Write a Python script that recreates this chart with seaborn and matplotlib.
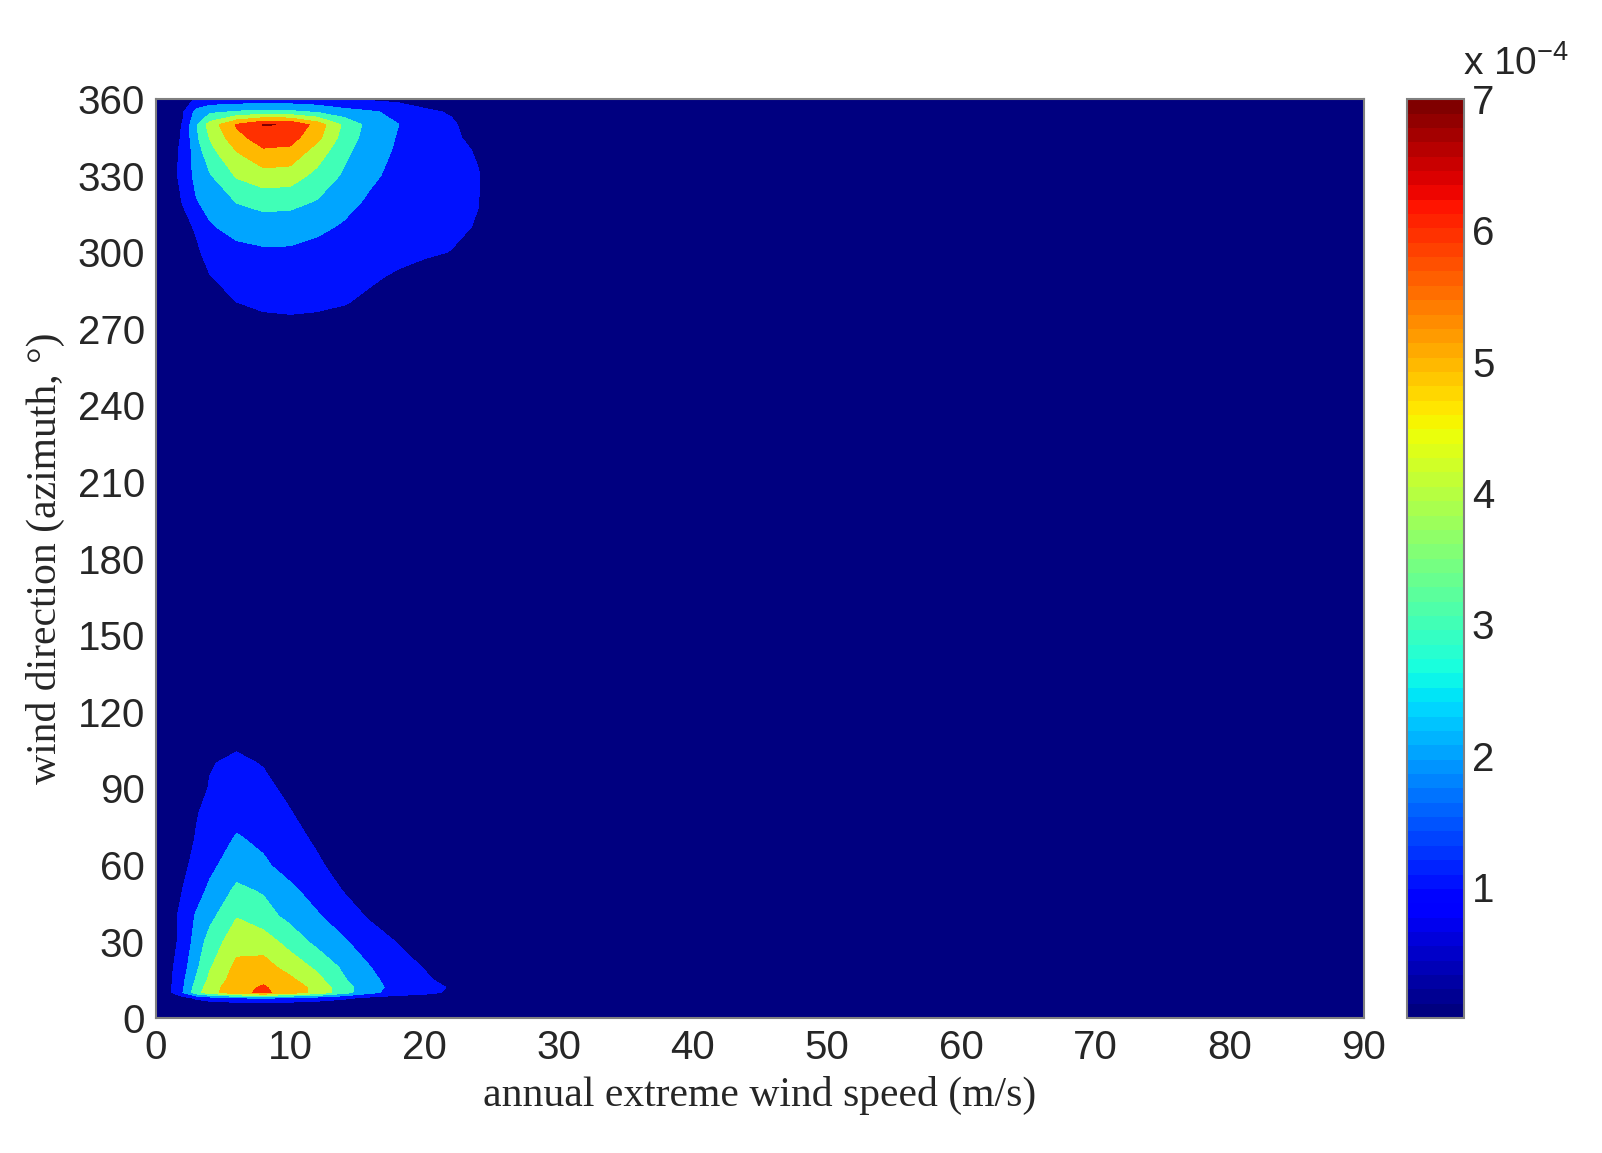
import numpy as np
import matplotlib
matplotlib.use("Agg")
import matplotlib.pyplot as plt
import seaborn as sns
from matplotlib.colors import Normalize

# grid of wind speed (m/s) used for the density tables
speed = [0, 1, 2, 3, 4, 6, 8, 10, 12, 14, 16, 18, 20, 22, 24, 26]

# joint pdf (x 1e-4), lower cluster: rows = wind direction
dir_low = [0, 5, 8, 10, 12, 15, 20, 30, 40, 50, 60, 70, 80, 90, 100, 110, 120]
pdf_low = [
    [0, 0, 0, 0, 0, 0, 0, 0, 0, 0, 0, 0, 0, 0, 0, 0],
    [0, 0.05, 0.15, 0.25, 0.3, 0.35, 0.4, 0.35, 0.3, 0.2, 0.1, 0.05, 0, 0, 0, 0],
    [0.1, 0.3, 0.7, 1.2, 1.6, 2.0, 2.2, 1.9, 1.6, 1.2, 0.8, 0.55, 0.4, 0.2, 0, 0],
    [0.3, 0.8, 2.0, 3.6, 4.6, 5.7, 6.2, 5.5, 4.7, 3.4, 2.2, 1.6, 1.3, 0.8, 0.2, 0],
    [0.3, 0.8, 1.9, 3.4, 4.5, 5.7, 6.1, 5.5, 4.7, 3.4, 2.3, 1.7, 1.4, 0.9, 0.3, 0],
    [0.3, 0.8, 1.8, 3.1, 4.2, 5.5, 5.8, 5.2, 4.3, 3.1, 2.2, 1.6, 1.15, 0.7, 0.2, 0],
    [0.3, 0.75, 1.6, 2.8, 3.9, 5.25, 5.4, 4.6, 3.8, 2.8, 2.0, 1.4, 0.95, 0.5, 0.1, 0],
    [0.25, 0.6, 1.3, 2.4, 3.4, 4.6, 4.5, 3.6, 2.7, 2.1, 1.5, 0.95, 0.6, 0.25, 0, 0],
    [0.2, 0.5, 1.35, 2.1, 2.7, 3.95, 3.4, 2.7, 2.1, 1.5, 0.85, 0.5, 0.25, 0.05, 0, 0],
    [0.15, 0.45, 1.02, 1.6, 2.2, 3.2, 2.9, 2.2, 1.6, 0.95, 0.5, 0.25, 0.1, 0, 0, 0],
    [0.1, 0.35, 0.85, 1.2, 1.75, 2.55, 2.15, 1.6, 1.15, 0.6, 0.3, 0.1, 0, 0, 0, 0],
    [0.05, 0.25, 0.7, 1.05, 1.45, 2.1, 1.8, 1.35, 0.85, 0.4, 0.15, 0, 0, 0, 0, 0],
    [0, 0.15, 0.5, 0.95, 1.25, 1.7, 1.45, 1.05, 0.6, 0.25, 0.05, 0, 0, 0, 0, 0],
    [0, 0.05, 0.3, 0.7, 1.05, 1.4, 1.2, 0.8, 0.4, 0.1, 0, 0, 0, 0, 0, 0],
    [0, 0, 0.1, 0.45, 0.95, 1.15, 0.95, 0.55, 0.2, 0, 0, 0, 0, 0, 0, 0],
    [0, 0, 0, 0.2, 0.6, 0.8, 0.6, 0.3, 0.1, 0, 0, 0, 0, 0, 0, 0],
    [0, 0, 0, 0.05, 0.3, 0.4, 0.3, 0.1, 0, 0, 0, 0, 0, 0, 0, 0],
]

# joint pdf (x 1e-4), upper cluster
dir_high = [270, 280, 290, 300, 310, 320, 330, 340, 345, 350, 355, 360]
pdf_high = [
    [0, 0, 0, 0.05, 0.3, 0.6, 0.75, 0.8, 0.75, 0.6, 0.4, 0.25, 0.1, 0, 0, 0],
    [0, 0, 0, 0.2, 0.5, 0.98, 1.12, 1.15, 1.12, 1.03, 0.85, 0.6, 0.4, 0.25, 0.05, 0],
    [0, 0, 0.15, 0.5, 0.95, 1.35, 1.45, 1.45, 1.35, 1.2, 1.08, 0.9, 0.7, 0.5, 0.2, 0],
    [0, 0.1, 0.4, 0.85, 1.3, 1.7, 1.85, 1.85, 1.7, 1.5, 1.35, 1.2, 1.1, 0.98, 0.6, 0],
    [0, 0.3, 0.75, 1.1, 1.9, 2.35, 2.5, 2.45, 2.2, 1.9, 1.6, 1.4, 1.25, 1.15, 0.95, 0.1],
    [0.1, 0.5, 1.05, 1.95, 2.3, 3.05, 3.35, 3.3, 2.95, 2.3, 1.85, 1.55, 1.35, 1.2, 1.02, 0.2],
    [0.15, 0.55, 1.3, 2.3, 2.9, 4.1, 4.6, 4.5, 3.7, 2.85, 2.15, 1.75, 1.5, 1.3, 1.05, 0.3],
    [0.2, 0.6, 1.2, 2.5, 3.7, 5.05, 5.9, 5.8, 4.6, 3.3, 2.35, 1.9, 1.6, 1.3, 0.9, 0],
    [0.2, 0.6, 1.1, 2.8, 4.05, 5.7, 6.5, 6.4, 5.3, 3.6, 2.5, 1.95, 1.6, 1.25, 0.6, 0],
    [0.2, 0.6, 1.05, 2.9, 4.4, 6.1, 7.04, 6.95, 5.6, 3.8, 2.6, 2.02, 1.6, 1.15, 0.5, 0],
    [0.1, 0.4, 0.9, 2.3, 2.8, 3.1, 3.3, 3.2, 2.9, 2.4, 2.1, 1.8, 1.2, 0.9, 0.3, 0],
    [0, 0.2, 0.6, 1.1, 1.25, 1.3, 1.3, 1.3, 1.2, 0.98, 0.85, 0.7, 0.5, 0.3, 0, 0],
]

cbar_ticks = [1, 2, 3, 4, 5, 6, 7]

# assemble full grid (zeros everywhere else)
xs = np.array(speed + [30, 90], dtype=float)
ys = np.array(dir_low + [130, 260] + dir_high, dtype=float)
Z = np.zeros((len(ys), len(xs)))
n = len(speed)
Z[:len(dir_low), :n] = pdf_low
Z[len(dir_low) + 2:, :n] = pdf_high
X, Y = np.meshgrid(xs, ys)

sns.set_theme(style="white")
plt.rcParams["font.family"] = ["Liberation Sans", "DejaVu Sans"]
plt.rcParams["mathtext.default"] = "regular"

jet = plt.get_cmap("jet")
band_colors = [jet(k / 7) for k in range(8)]
levels = np.arange(9) * 1e-4

fig = plt.figure(figsize=(16.02, 11.53), dpi=100)
ax = fig.add_axes([0.0974, 0.117, 0.754, 0.797])
ax.contourf(X, Y, Z * 1e-4, levels=levels, colors=band_colors)

ax.set_xlim(0, 90)
ax.set_ylim(0, 360)
ax.set_xticks(range(0, 91, 10))
ax.set_yticks(range(0, 361, 30))
ax.tick_params(direction="in", top=True, right=True, length=8, width=1.2,
               color="black", labelsize=29, pad=8)
for s in ax.spines.values():
    s.set_color("#808080")
    s.set_linewidth(1.5)

serif = ["Liberation Serif", "DejaVu Serif"]
ax.set_xlabel("annual extreme wind speed (m/s)", family=serif, fontsize=30)
ax.set_ylabel("wind direction (azimuth, \u00b0)", family=serif, fontsize=30)
ax.xaxis.set_label_coords(0.5, -0.063)
ax.yaxis.set_label_coords(-0.075, 0.5)

# colorbar
cax = fig.add_axes([0.878, 0.117, 0.0356, 0.797])
sm = plt.cm.ScalarMappable(norm=Normalize(0, 7e-4), cmap=plt.get_cmap("jet", 64))
cb = fig.colorbar(sm, cax=cax)
cb.set_ticks([t * 1e-4 for t in cbar_ticks])
cb.set_ticklabels([str(t) for t in cbar_ticks])
cax.yaxis.set_ticks_position("both")
cax.tick_params(direction="in", length=6, width=1, color="#555555",
                labelsize=29, pad=6, labelright=True, labelleft=False)
cb.outline.set_edgecolor("#808080")
cb.outline.set_linewidth(1.5)
fig.text(0.913, 0.935, r"x 10$^{-4}$", fontsize=28, ha="left", va="baseline")

fig.savefig("out.png", dpi=100)
